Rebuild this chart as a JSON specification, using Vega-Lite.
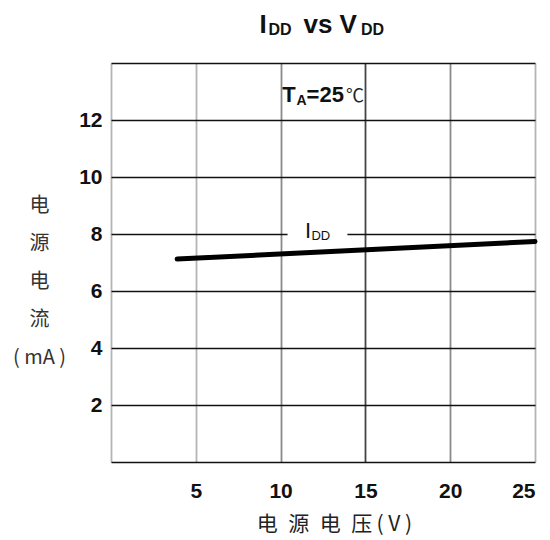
{
  "$schema": "https://vega.github.io/schema/vega-lite/v6.json",
  "width": 424,
  "height": 399,
  "autosize": {"type": "none"},
  "padding": {"left": 111, "top": 63, "right": 15, "bottom": 78},
  "background": "white",
  "config": {"view": {"stroke": null}},
  "datasets": {
    "curve": [
      {"vdd": 3.9, "idd": 7.12},
      {"vdd": 25, "idd": 7.74}
    ],
    "labels": [
      {"g": "tmain", "x": 8.76, "y": 15.05, "t": "I"},
      {"g": "tsub", "x": 9.29, "y": 14.98, "t": "DD"},
      {"g": "tmain", "x": 11.35, "y": 15.05, "t": "vs"},
      {"g": "tmain", "x": 13.47, "y": 15.05, "t": "V"},
      {"g": "tsub", "x": 14.74, "y": 14.98, "t": "DD"},
      {"g": "amain", "x": 10.09, "y": 12.63, "t": "T"},
      {"g": "asub", "x": 10.94, "y": 12.53, "t": "A"},
      {"g": "amain", "x": 11.53, "y": 12.63, "t": "=25"},
      {"g": "adeg", "x": 13.85, "y": 12.63, "t": "℃"},
      {"g": "lmain", "x": 11.44, "y": 7.86, "t": "I"},
      {"g": "lsub", "x": 11.82, "y": 7.79, "t": "DD"}
    ],
    "mask": [{"x1": 10.41, "x2": 13.94, "y1": 7.85, "y2": 8.15}]
  },
  "layer": [
    {
      "data": {"name": "mask"},
      "mark": {"type": "rect", "color": "white"},
      "encoding": {
        "x": {"field": "x1", "type": "quantitative", "scale": {"domain": [0, 25], "nice": false}, "axis": {
          "values": [0, 5, 10, 15, 20, 25],
          "labelExpr": "datum.value == 0 ? '' : datum.label",
          "grid": true,
          "gridColor": {"condition": [
            {"test": "datum.value == 15", "value": "#444444"},
            {"test": "datum.value == 10 || datum.value == 20", "value": "#8a8a8a"}
          ], "value": "#b5b5b5"},
          "gridWidth": 1.8,
          "domain": false,
          "ticks": false,
          "labelFont": "Liberation Sans",
          "labelFontSize": 21,
          "labelFontWeight": "bold",
          "labelColor": "#111111",
          "labelPadding": 18,
          "labelBaseline": "top",
          "title": "电\u2002源\u2002电\u2002压\u2009( V )",
          "titleFont": "Noto Sans CJK SC",
          "titleFontSize": 21,
          "titleFontWeight": "normal",
          "titleColor": "#222222",
          "titleAnchor": null,
          "titleX": 223,
          "titleY": 62,
          "titleAlign": "center",
          "titleBaseline": "middle"
        }},
        "x2": {"field": "x2"},
        "y": {"field": "y1", "type": "quantitative", "scale": {"domain": [0, 14], "nice": false}, "axis": {
          "values": [0, 2, 4, 6, 8, 10, 12, 14],
          "labelExpr": "datum.value == 0 || datum.value == 14 ? '' : datum.label",
          "grid": true,
          "gridColor": "#111111",
          "gridWidth": 1.6,
          "domain": false,
          "ticks": false,
          "labelFont": "Liberation Sans",
          "labelFontSize": 21,
          "labelFontWeight": "bold",
          "labelColor": "#111111",
          "labelPadding": 9,
          "title": ["电", "源", "电", "流", "( mA )"],
          "titleFont": "Noto Sans CJK SC",
          "titleFontSize": 20,
          "titleFontWeight": "normal",
          "titleColor": "#333333",
          "titleAngle": 0,
          "titleAnchor": null,
          "titleX": -72,
          "titleY": 142,
          "titleAlign": "center",
          "titleBaseline": "middle",
          "titleLineHeight": 38
        }},
        "y2": {"field": "y2"}
      }
    },
    {
      "data": {"name": "curve"},
      "mark": {"type": "line", "color": "#000000", "strokeWidth": 5, "strokeCap": "round"},
      "encoding": {
        "x": {"field": "vdd", "type": "quantitative"},
        "y": {"field": "idd", "type": "quantitative"}
      }
    },
    {
      "data": {"name": "labels"},
      "transform": [{"filter": "datum.g == 'tmain'"}],
      "mark": {"type": "text", "font": "Liberation Sans", "fontSize": 26, "fontWeight": "bold", "align": "left", "baseline": "alphabetic", "color": "#111111"},
      "encoding": {"x": {"field": "x", "type": "quantitative"}, "y": {"field": "y", "type": "quantitative"}, "text": {"field": "t"}}
    },
    {
      "data": {"name": "labels"},
      "transform": [{"filter": "datum.g == 'tsub'"}],
      "mark": {"type": "text", "font": "Liberation Sans", "fontSize": 16, "fontWeight": "bold", "align": "left", "baseline": "alphabetic", "color": "#111111"},
      "encoding": {"x": {"field": "x", "type": "quantitative"}, "y": {"field": "y", "type": "quantitative"}, "text": {"field": "t"}}
    },
    {
      "data": {"name": "labels"},
      "transform": [{"filter": "datum.g == 'amain'"}],
      "mark": {"type": "text", "font": "Liberation Sans", "fontSize": 22, "fontWeight": "bold", "align": "left", "baseline": "alphabetic", "color": "#111111"},
      "encoding": {"x": {"field": "x", "type": "quantitative"}, "y": {"field": "y", "type": "quantitative"}, "text": {"field": "t"}}
    },
    {
      "data": {"name": "labels"},
      "transform": [{"filter": "datum.g == 'asub'"}],
      "mark": {"type": "text", "font": "Liberation Sans", "fontSize": 14, "fontWeight": "bold", "align": "left", "baseline": "alphabetic", "color": "#111111"},
      "encoding": {"x": {"field": "x", "type": "quantitative"}, "y": {"field": "y", "type": "quantitative"}, "text": {"field": "t"}}
    },
    {
      "data": {"name": "labels"},
      "transform": [{"filter": "datum.g == 'adeg'"}],
      "mark": {"type": "text", "font": "Noto Sans CJK SC", "fontSize": 18, "fontWeight": "normal", "align": "left", "baseline": "alphabetic", "color": "#222222"},
      "encoding": {"x": {"field": "x", "type": "quantitative"}, "y": {"field": "y", "type": "quantitative"}, "text": {"field": "t"}}
    },
    {
      "data": {"name": "labels"},
      "transform": [{"filter": "datum.g == 'lmain'"}],
      "mark": {"type": "text", "font": "Liberation Sans", "fontSize": 22, "fontWeight": "normal", "align": "left", "baseline": "alphabetic", "color": "#111111"},
      "encoding": {"x": {"field": "x", "type": "quantitative"}, "y": {"field": "y", "type": "quantitative"}, "text": {"field": "t"}}
    },
    {
      "data": {"name": "labels"},
      "transform": [{"filter": "datum.g == 'lsub'"}],
      "mark": {"type": "text", "font": "Liberation Sans", "fontSize": 13, "fontWeight": "normal", "align": "left", "baseline": "alphabetic", "color": "#111111"},
      "encoding": {"x": {"field": "x", "type": "quantitative"}, "y": {"field": "y", "type": "quantitative"}, "text": {"field": "t"}}
    }
  ]
}
